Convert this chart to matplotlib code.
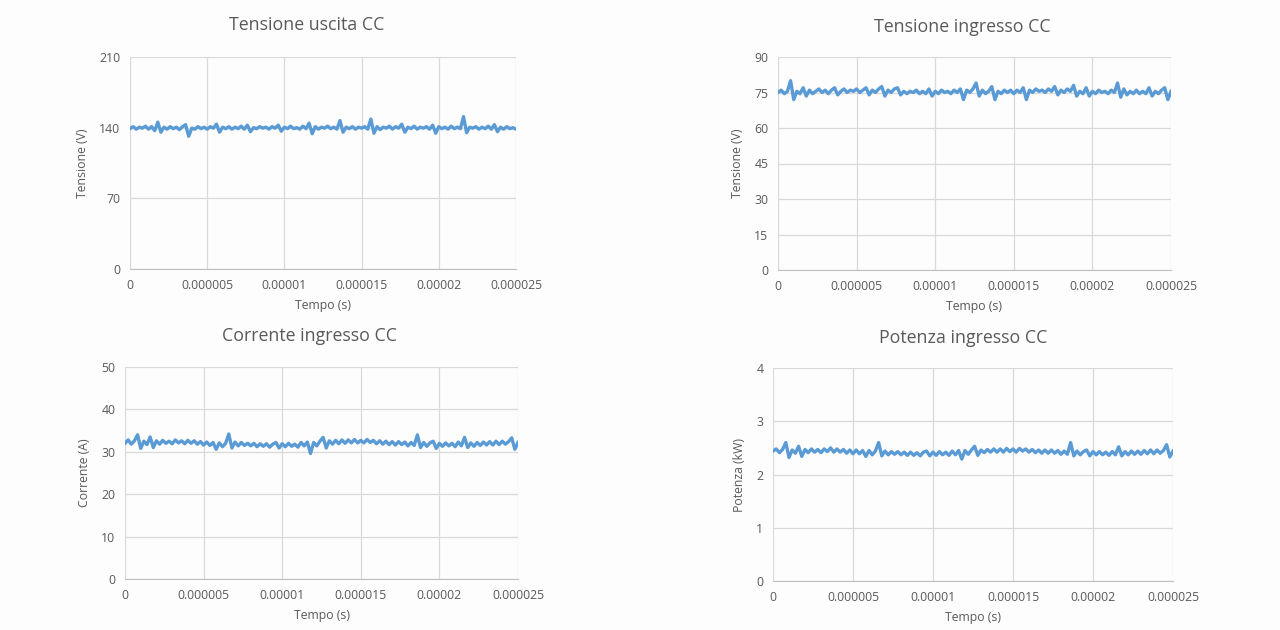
import numpy as np
import matplotlib
matplotlib.use("Agg")
import matplotlib.pyplot as plt
from matplotlib.ticker import FixedLocator, FixedFormatter

plt.rcParams['font.family'] = ['Open Sans', 'DejaVu Sans']

# sample times (0.2 us step, 0 .. 25 us)
time_s = np.linspace(0, 25e-6, 126)

v_out = [139, 141, 138.5, 140.5, 139.5, 141.5, 138.5, 141, 137, 145.5,
         135.5, 140.5, 138.5, 141, 139, 140.5, 138, 141, 143, 131.5,
         139.5, 138.5, 141, 139, 140.5, 138.5, 141, 139.5, 143.5, 135.5,
         140.5, 139, 141, 138.5, 140.5, 139, 141.5, 138.5, 142.5, 136,
         140, 139, 141, 139.5, 140.5, 138.5, 141, 139.5, 142.5, 136.5,
         140.5, 139, 141.5, 139, 140, 138.5, 141.5, 139, 144.5, 134,
         141, 138.5, 140.5, 139.5, 141.5, 139, 140.5, 138.5, 147, 135.5,
         140.5, 139, 141, 138.5, 140.5, 139.5, 141, 138.5, 148.5, 134.5,
         141, 138, 140.5, 139.5, 141.5, 138.5, 141, 139.5, 143.5, 135.5,
         140.5, 139, 141.5, 138.5, 140.5, 139.5, 141, 138.5, 142.5, 134.5,
         141, 139, 140.5, 138.5, 141.5, 139, 140.5, 139, 151, 135,
         140.5, 139.5, 141, 138.5, 140.5, 139, 141.5, 138.5, 143, 136,
         140.5, 138.5, 141, 139, 140, 138.5]

v_in = [75, 76, 74.5, 75.5, 80, 72, 75.5, 74.5, 77, 73.5,
        76, 74.5, 75.5, 76.5, 75, 76, 74.5, 76, 77, 74,
        75.5, 76.5, 75, 76, 75.5, 76.5, 75, 76, 77, 74,
        76, 75, 76.5, 77.5, 73.5, 76, 75, 76.5, 77, 74,
        75.5, 74.5, 75.5, 75, 76, 74.5, 75.5, 74.5, 76.5, 73.5,
        75.5, 74.5, 76, 75, 75.5, 74.5, 76, 75, 76.5, 72,
        76, 75, 76.5, 79, 73.5, 76, 74.5, 75.5, 77.5, 72,
        75.5, 74.5, 76, 75, 76, 74.5, 76, 75, 77, 72,
        76, 75, 76.5, 75.5, 76, 75, 76.5, 75.5, 77.5, 74,
        76, 75, 76.5, 75.5, 78, 73.5, 75.5, 74.5, 77, 73.5,
        75.5, 74.5, 76, 75, 75.5, 74.5, 76, 75, 79, 73,
        76.5, 74, 75.5, 74.5, 76, 74.5, 75.5, 74.5, 77, 73.5,
        75.5, 74.5, 76, 77, 72, 75.5]

i_in = [32, 32.8, 31.8, 32.6, 34, 30.8, 32.5, 31.7, 33.5, 31,
        32.6, 31.8, 32.7, 32, 32.5, 31.9, 32.8, 32.1, 32.6, 31.9,
        32.7, 32, 32.6, 31.8, 32.4, 31.6, 32.3, 31.5, 32.2, 30.6,
        32.1, 31.2, 32, 34.2, 30.9, 32.3, 31.4, 32.2, 31.5, 32,
        31.4, 32, 31.2, 31.9, 31.3, 31.9, 31.1, 31.8, 32.2, 30.9,
        31.9, 31.2, 32, 31.3, 31.8, 31.1, 32.2, 31.4, 32.3, 29.6,
        32.2, 31.4, 32.5, 33.4, 30.9, 32.6, 31.8, 32.7, 31.9, 32.8,
        32, 32.8, 32.1, 32.9, 32.1, 32.7, 32.1, 32.9, 32.2, 32.7,
        31.9, 32.6, 31.8, 32.5, 31.7, 32.4, 31.6, 32.4, 31.7, 32.3,
        31.4, 32.2, 31.5, 34, 31, 32.2, 31.3, 32.1, 32.5, 30.8,
        32, 31.3, 32.1, 31.4, 32, 31.2, 32.3, 31.4, 33.4, 31,
        32.1, 31.3, 32.2, 31.5, 32.3, 31.6, 32.4, 31.6, 32.5, 31.7,
        32.5, 31.8, 32.4, 33.3, 30.6, 32.2]

p_in = [2.44, 2.48, 2.41, 2.47, 2.6, 2.32, 2.46, 2.4, 2.53, 2.34,
        2.47, 2.41, 2.48, 2.42, 2.47, 2.41, 2.48, 2.43, 2.5, 2.42,
        2.48, 2.42, 2.47, 2.4, 2.46, 2.39, 2.46, 2.39, 2.45, 2.34,
        2.45, 2.37, 2.44, 2.6, 2.35, 2.44, 2.37, 2.43, 2.38, 2.43,
        2.37, 2.42, 2.36, 2.42, 2.36, 2.41, 2.35, 2.42, 2.44, 2.35,
        2.42, 2.36, 2.43, 2.37, 2.42, 2.36, 2.44, 2.37, 2.45, 2.29,
        2.45, 2.38, 2.46, 2.53, 2.36, 2.46, 2.41, 2.47, 2.42, 2.48,
        2.42, 2.48, 2.42, 2.49, 2.43, 2.48, 2.42, 2.49, 2.44, 2.48,
        2.42, 2.47, 2.41, 2.46, 2.4, 2.46, 2.4, 2.46, 2.4, 2.45,
        2.38, 2.44, 2.38, 2.6, 2.35, 2.44, 2.37, 2.43, 2.46, 2.35,
        2.43, 2.37, 2.43, 2.37, 2.42, 2.36, 2.43, 2.37, 2.52, 2.35,
        2.43, 2.37, 2.44, 2.38, 2.44, 2.38, 2.45, 2.39, 2.46, 2.39,
        2.46, 2.4, 2.45, 2.56, 2.33, 2.44]

x_ticks = [0, 5e-6, 10e-6, 15e-6, 20e-6, 25e-6]
x_tick_labels = ["0", "0.000005", "0.00001", "0.000015", "0.00002", "0.000025"]

titles = ["Tensione uscita CC", "Tensione ingresso CC",
          "Corrente ingresso CC", "Potenza ingresso CC"]
ylabels = ["Tensione (V)", "Tensione (V)", "Corrente (A)", "Potenza (kW)"]
yticks = [[0, 70, 140, 210], [0, 15, 30, 45, 60, 75, 90],
          [0, 10, 20, 30, 40, 50], [0, 1, 2, 3, 4]]
series = [v_out, v_in, i_in, p_in]

W, H = 1280, 630
boxes = [(130, 57, 516, 269), (778, 57, 1171, 270),
         (125, 367, 518, 579), (773, 368, 1173, 581)]
title_pos = [(307, 25), (962, 27), (310, 336), (963, 338)]

fig = plt.figure(figsize=(12.8, 6.3), dpi=100)
fig.patch.set_facecolor('#fdfdfd')

text_col = '#595959'
grid_col = '#d9d9d9'
line_col = '#5B9BD5'

for k in range(4):
    l, t, r, b = boxes[k]
    ax = fig.add_axes([l / W, 1 - b / H, (r - l) / W, (b - t) / H])
    ax.set_facecolor('#fdfdfd')
    ax.plot(time_s, series[k], color=line_col, lw=2.4, solid_joinstyle='round')
    ax.set_xlim(0, 25e-6)
    ax.set_ylim(yticks[k][0], yticks[k][-1])
    ax.xaxis.set_major_locator(FixedLocator(x_ticks))
    ax.xaxis.set_major_formatter(FixedFormatter(x_tick_labels))
    ax.set_yticks(yticks[k])
    ax.set_yticklabels([str(v) for v in yticks[k]])
    ax.grid(True, color=grid_col, lw=0.9)
    ax.set_axisbelow(True)
    for s in ['top', 'right', 'left']:
        ax.spines[s].set_visible(False)
    ax.spines['bottom'].set_color('#bfbfbf')
    ax.tick_params(length=0, labelsize=8.8, labelcolor=text_col, pad=7)
    ax.set_xlabel("Tempo (s)", fontsize=8.8, color=text_col, labelpad=5)
    ax.set_ylabel(ylabels[k], fontsize=8.8, color=text_col, labelpad=7)
    tx, ty = title_pos[k]
    fig.text(tx / W, 1 - ty / H, titles[k], ha='center', va='center',
             fontsize=12.8, color=text_col)

fig.savefig("out.png", dpi=100, facecolor=fig.get_facecolor())
